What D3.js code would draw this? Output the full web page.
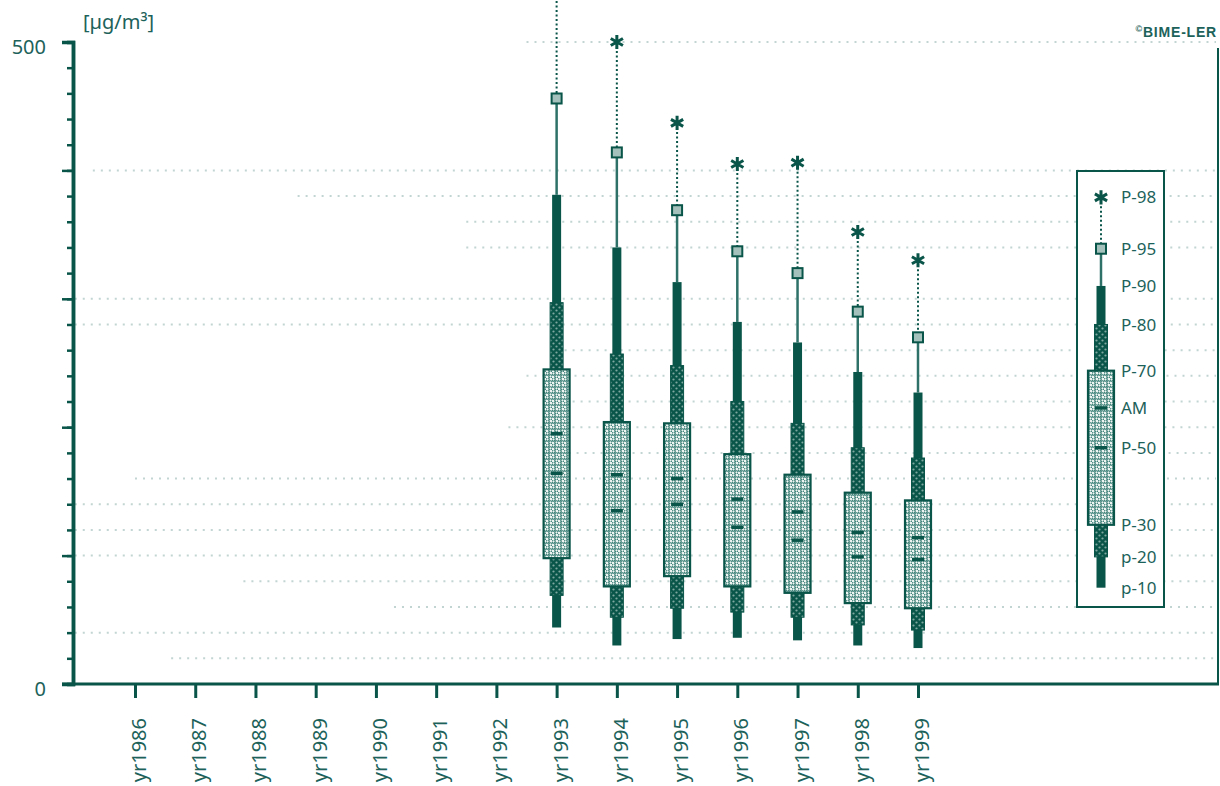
<!DOCTYPE html>
<html>
<head>
<meta charset="utf-8">
<script src="https://cdn.jsdelivr.net/npm/d3@7"></script>
<style>
  html, body { margin: 0; padding: 0; background: #ffffff; }
  svg { display: block; font-family: "Noto Sans", "Open Sans", sans-serif; }
</style>
</head>
<body>
<svg id="chart" width="1220" height="786"></svg>
<script>
// Annual percentile distribution of concentrations, µg/m³
const years = ["yr1986", "yr1987", "yr1988", "yr1989", "yr1990", "yr1991", "yr1992",
               "yr1993", "yr1994", "yr1995", "yr1996", "yr1997", "yr1998", "yr1999"];
const p98 = [null, null, null, null, null, null, null, 560, 500, 437, 405, 406, 352, 330];
const p95 = [null, null, null, null, null, null, null, 456, 414, 369, 337, 320, 290, 270];
const p90 = [null, null, null, null, null, null, null, 381, 340, 313, 282, 266, 243, 227];
const p80 = [null, null, null, null, null, null, null, 297, 257, 248, 220, 203, 184, 176];
const p70 = [null, null, null, null, null, null, null, 245, 204, 203, 179, 163, 149, 143];
const am  = [null, null, null, null, null, null, null, 195, 163, 160, 144, 134, 118, 114];
const p50 = [null, null, null, null, null, null, null, 164, 135, 140, 122, 112, 99, 97];
const p30 = [null, null, null, null, null, null, null, 98, 76, 84, 76, 71, 63, 59];
const p20 = [null, null, null, null, null, null, null, 69, 52, 59, 56, 52, 46, 42];
const p10 = [null, null, null, null, null, null, null, 44, 30, 35, 36, 34, 30, 28];

// Legend entries and the sample levels the legend glyph is drawn at
const legendKeys   = ["P-98", "P-95", "P-90", "P-80", "P-70", "AM", "P-50", "P-30", "p-20", "p-10"];
const legendSample = [379, 339, 310, 280, 244, 215, 184, 124, 99, 75];

// y-axis ticks and labels
const minorTicks = d3.range(0, 501, 20);
const majorTicks = [0, 100, 200, 300, 400, 500];
const tickLabels = [0, 500];
const unitLabel = "[µg/m³]";
const creditLabel = "BIME-LER";

// dotted reference lines: level and where they begin (in year positions)
const gridLevels = [20, 40, 60, 80, 100, 120, 140, 160, 180, 200, 220, 240, 260, 280, 300, 340, 360, 380, 400, 500];
const gridFrom   = [0.6, -1, 4.3, 1.8, -1, -1, -1, 0, 6.8, 6.2, 7, 6.5, 7, -1, -1, 5.5, 5.5, 2.7, -0.7, 6.5];

const INK = "#0a5549";
const TXT = "#1d625a";

const svg = d3.select("#chart");

const y = d3.scaleLinear().domain([0, 500]).range([684, 42]);
const x = d3.scalePoint().domain(years).range([135, 918]);
const step = x.step();
const xPos = i => x(years[0]) + i * step;

// patterns for the box fill (light mesh) and the inner whiskers (dark mesh)
const defs = svg.append("defs");
const mesh = defs.append("pattern").attr("id", "mesh")
  .attr("patternUnits", "userSpaceOnUse").attr("width", 6).attr("height", 6);
mesh.append("rect").attr("width", 6).attr("height", 6).attr("fill", "#eef4f2");
[[1.5, 1.5], [4.5, 4.5]].forEach(([cx, cy]) => {
  mesh.append("circle").attr("cx", cx).attr("cy", cy).attr("r", 1.7)
    .attr("fill", "none").attr("stroke", "#2a756b").attr("stroke-width", 1.1);
});
const dense = defs.append("pattern").attr("id", "dense")
  .attr("patternUnits", "userSpaceOnUse").attr("width", 6).attr("height", 6);
dense.append("rect").attr("width", 6).attr("height", 6).attr("fill", INK);
[[1.5, 1.5], [4.5, 4.5]].forEach(([cx, cy]) => {
  dense.append("circle").attr("cx", cx).attr("cy", cy).attr("r", 1.1)
    .attr("fill", "#7ea89f");
});

// dotted reference lines
svg.append("g").selectAll("line").data(gridLevels).join("line")
  .attr("x1", (d, i) => xPos(gridFrom[i] + 1) - step)
  .attr("x2", 1216)
  .attr("y1", d => y(d)).attr("y2", d => y(d))
  .attr("stroke", "#4f887f").attr("stroke-opacity", 0.35)
  .attr("stroke-width", 2).attr("stroke-dasharray", "2,6");

// y axis
const yMinor = svg.append("g").attr("transform", "translate(73,0)")
  .call(d3.axisLeft(y).tickValues(minorTicks).tickSize(6).tickFormat(""));
const yMajor = svg.append("g").attr("transform", "translate(73,0)")
  .call(d3.axisLeft(y).tickValues(majorTicks).tickSize(11)
    .tickFormat(d => tickLabels.includes(d) ? d3.format("d")(d) : ""));
[yMinor, yMajor].forEach(g => {
  g.select(".domain").attr("stroke", INK).attr("stroke-width", 3.5);
  g.selectAll(".tick line").attr("stroke", INK).attr("stroke-width", 2.5);
});
yMajor.selectAll(".tick text")
  .attr("x", -27).attr("dy", "0.55em")
  .attr("fill", TXT).attr("font-size", 20).attr("font-family", "Noto Sans, sans-serif");

svg.append("text").attr("x", 83).attr("y", 29)
  .attr("fill", TXT).attr("font-size", 20).text(unitLabel);

// x axis
const xAxis = svg.append("g").attr("transform", "translate(0,684)")
  .call(d3.axisBottom(x).tickSize(14).tickFormat(""));
xAxis.select(".domain").remove();
xAxis.selectAll(".tick line").attr("stroke", INK).attr("stroke-width", 3);
svg.append("line").attr("x1", 62).attr("x2", 1219).attr("y1", y(0)).attr("y2", y(0))
  .attr("stroke", INK).attr("stroke-width", 3);
svg.append("line").attr("x1", 1218).attr("x2", 1218).attr("y1", 48).attr("y2", y(0))
  .attr("stroke", INK).attr("stroke-width", 2);

svg.append("g").selectAll("text").data(years).join("text")
  .attr("transform", d => `translate(${x(d)},718) rotate(-90)`)
  .attr("text-anchor", "end").attr("dy", 11)
  .attr("fill", TXT).attr("font-size", 20).text(d => d);

// credit line
const credit = svg.append("text").attr("x", 1217).attr("y", 37).attr("text-anchor", "end")
  .attr("fill", TXT).attr("font-weight", "bold").attr("font-size", 14)
  .attr("letter-spacing", 0.8)
  .attr("font-family", "Liberation Sans, Arial, sans-serif");
credit.append("tspan").attr("font-size", 9).attr("dy", -5).text("©");
credit.append("tspan").attr("dy", 5).text(creditLabel);

// one percentile glyph: p98 star, p95 square, whiskers, box, AM and median dashes
function glyph(g, cx, v) {
  const [v98, v95, v90, v80, v70, vam, v50, v30, v20, v10] = v;
  g.append("line").attr("x1", cx).attr("x2", cx).attr("y1", y(v98)).attr("y2", y(v95))
    .attr("stroke", INK).attr("stroke-width", 2).attr("stroke-dasharray", "2,2.5");
  g.append("line").attr("x1", cx).attr("x2", cx).attr("y1", y(v95)).attr("y2", y(v90))
    .attr("stroke", "#2d7168").attr("stroke-width", 2.5);
  g.append("rect").attr("x", cx - 4.5).attr("width", 9)
    .attr("y", y(v90)).attr("height", y(v10) - y(v90)).attr("fill", INK);
  g.append("rect").attr("x", cx - 6.5).attr("width", 13)
    .attr("y", y(v80)).attr("height", y(v20) - y(v80))
    .attr("fill", "url(#dense)").attr("stroke", INK).attr("stroke-width", 1);
  g.append("rect").attr("x", cx - 13).attr("width", 26)
    .attr("y", y(v70)).attr("height", y(v30) - y(v70))
    .attr("fill", "url(#mesh)").attr("stroke", INK).attr("stroke-width", 2.2);
  [vam, v50].forEach(d => {
    g.append("rect").attr("x", cx - 6).attr("width", 12)
      .attr("y", y(d) - 1.75).attr("height", 3.5).attr("fill", INK);
  });
  g.append("rect").attr("x", cx - 5).attr("y", y(v95) - 5).attr("width", 10).attr("height", 10)
    .attr("fill", "#a5c1bb").attr("stroke", INK).attr("stroke-width", 2);
  g.append("path").attr("transform", `translate(${cx},${y(v98)})`)
    .attr("d", d3.symbol(d3.symbolAsterisk, 140)())
    .attr("fill", "none").attr("stroke", INK).attr("stroke-width", 3);
}

const cols = svg.append("g");
years.forEach((yr, i) => {
  if (p98[i] == null) return;
  glyph(cols.append("g"), x(yr),
    [p98[i], p95[i], p90[i], p80[i], p70[i], am[i], p50[i], p30[i], p20[i], p10[i]]);
});

// legend
const lg = svg.append("g");
lg.append("rect").attr("x", 1077).attr("y", 171).attr("width", 87).attr("height", 436)
  .attr("fill", "#ffffff").attr("stroke", INK).attr("stroke-width", 2);
glyph(lg, 1101, legendSample);
lg.selectAll("text.key").data(legendKeys).join("text").attr("class", "key")
  .attr("x", 1121).attr("y", (d, i) => y(legendSample[i])).attr("dy", "0.36em")
  .attr("fill", TXT).attr("font-size", 17).text(d => d);
</script>
</body>
</html>
